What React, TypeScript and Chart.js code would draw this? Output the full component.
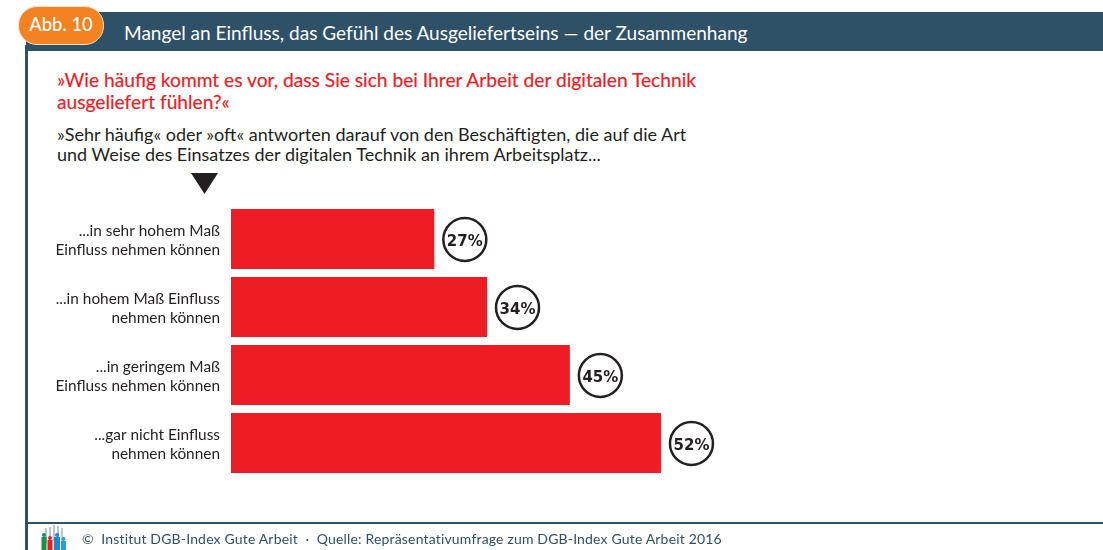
import React, { useEffect, useRef } from "react";
import { Chart, registerables } from "chart.js";

Chart.register(...registerables);

const categories: string[][] = [
  ["...in sehr hohem Maß", "Einfluss nehmen können"],
  ["...in hohem Maß Einfluss", "nehmen können"],
  ["...in geringem Maß", "Einfluss nehmen können"],
  ["...gar nicht Einfluss", "nehmen können"],
];
// Printed percentages, as written in the circles.
const printedValues = [27, 34, 45, 52];
// Bar lengths as drawn: the reference's last bar is longer than its printed 52% on the common scale.
const drawnLengths = [27, 34, 45, 57.1];

const NAVY = "#2e5168";
const RED = "#ee1c25";
const INK = "#231f20";
const FONT = "Lato, 'Open Sans', sans-serif";

const circlePlugin = {
  id: "valueCircles",
  afterDatasetsDraw(chart: any) {
    const { ctx } = chart;
    const meta = chart.getDatasetMeta(0);
    meta.data.forEach((bar: any, i: number) => {
      const cx = bar.x + 30.5;
      const cy = bar.y + 0.5;
      ctx.save();
      ctx.beginPath();
      ctx.arc(cx, cy, 21.5, 0, Math.PI * 2);
      ctx.lineWidth = 2.5;
      ctx.strokeStyle = INK;
      ctx.stroke();
      ctx.fillStyle = INK;
      ctx.font = "bold 15px 'DejaVu Sans'";
      ctx.textAlign = "center";
      ctx.textBaseline = "middle";
      ctx.fillText(`${printedValues[i]}%`, cx, cy + 2.5);
      ctx.restore();
    });
  },
};

const abs = (left: number, top: number, extra: React.CSSProperties = {}): React.CSSProperties => ({
  position: "absolute",
  left,
  top,
  whiteSpace: "nowrap",
  fontFamily: FONT,
  ...extra,
});

export default function App() {
  const ref = useRef<HTMLCanvasElement>(null);
  useEffect(() => {
    const chart = new Chart(ref.current!, {
      type: "bar",
      data: {
        labels: categories,
        datasets: [
          {
            data: drawnLengths,
            backgroundColor: RED,
            barPercentage: 60 / 68,
            categoryPercentage: 1,
          },
        ],
      },
      options: {
        indexAxis: "y",
        animation: false,
        responsive: false,
        layout: { padding: { left: 0, top: 205, bottom: 73, right: 119 } },
        plugins: { legend: { display: false }, tooltip: { enabled: false } },
        scales: {
          x: { display: false, min: 0, max: 100 },
          y: {
            afterFit(scale: any) {
              scale.width = 231;
            },
            grid: { display: false, drawTicks: false },
            border: { display: false },
            ticks: {
              color: INK,
              padding: 11,
              autoSkip: false,
              labelOffset: 1.5,
              font: { family: "Lato", size: 15.4, lineHeight: 19 / 15.4 },
            },
          },
        },
      },
      plugins: [circlePlugin],
    });
    return () => chart.destroy();
  }, []);

  return (
    <div style={{ position: "absolute", left: 0, top: 0, width: 1103, height: 550, overflow: "hidden", background: "#fff" }}>
      <div style={{ position: "absolute", left: 26, top: 12, width: 1077, height: 39, background: NAVY }} />
      <div style={{ position: "absolute", left: 25, top: 45, width: 2.5, height: 505, background: NAVY }} />
      <div style={{ position: "absolute", left: 26, top: 522, width: 1077, height: 2, background: NAVY }} />
      <div
        style={abs(18, 6, {
          width: 86,
          height: 39,
          boxSizing: "border-box",
          background: "#f58220",
          border: "1.5px solid #fbe3cc",
          borderRadius: 19,
          color: "#fff",
          fontSize: 18.4,
          fontWeight: 500,
          lineHeight: "34px",
          textAlign: "center",
        })}
      >
        Abb. 10
      </div>
      <div style={abs(124, 20, { color: "#fff", fontSize: 19.05, lineHeight: "26px" })}>
        Mangel an Einfluss, das Gefühl des Ausgeliefertseins — der Zusammenhang
      </div>
      <div style={abs(57, 69, { color: RED, fontSize: 19.2, lineHeight: "22px", WebkitTextStroke: "0.2px " + RED })}>
        »Wie häufig kommt es vor, dass Sie sich bei Ihrer Arbeit der digitalen Technik
        <br />
        ausgeliefert fühlen?«
      </div>
      <div style={abs(57, 124, { color: INK, fontSize: 18, lineHeight: "20px" })}>
        »Sehr häufig« oder »oft« antworten darauf von den Beschäftigten, die auf die Art
        <br />
        und Weise des Einsatzes der digitalen Technik an ihrem Arbeitsplatz...
      </div>
      <svg style={{ position: "absolute", left: 191, top: 173 }} width="28" height="22">
        <polygon points="0,0 27,0 13.5,21" fill={INK} />
      </svg>
      <canvas ref={ref} width={1103} height={550} style={{ position: "absolute", left: 0, top: 0 }} />
      <svg style={{ position: "absolute", left: 40, top: 524 }} width="28" height="26">
        <g fill="#b9c4cf">
          <rect x="5" y="4" width="2" height="16" />
          <rect x="9" y="3" width="2" height="16" />
          <rect x="13" y="1" width="2" height="16" />
          <rect x="17" y="2" width="2" height="16" />
          <rect x="21" y="4" width="2" height="16" />
        </g>
        <g fill="#16924a"><circle cx="4" cy="11" r="2" /><rect x="1.5" y="13" width="5" height="13" /></g>
        <g fill="#ee1c25"><circle cx="10" cy="14" r="2" /><rect x="7.5" y="16" width="5" height="10" /></g>
        <g fill="#1d87c9"><circle cx="17" cy="11" r="2" /><rect x="14" y="13" width="6" height="13" /></g>
        <g fill="#2aa0d8"><circle cx="23.500" cy="15" r="2" /><rect x="21" y="17" width="5" height="9" /></g>
      </svg>
      <div style={abs(82, 530, { color: NAVY, fontSize: 14, lineHeight: "18px", letterSpacing: "0.17px" })}>
        ©&nbsp; Institut DGB-Index Gute Arbeit &nbsp;·&nbsp; Quelle: Repräsentativumfrage zum DGB-Index Gute Arbeit 2016
      </div>
    </div>
  );
}
